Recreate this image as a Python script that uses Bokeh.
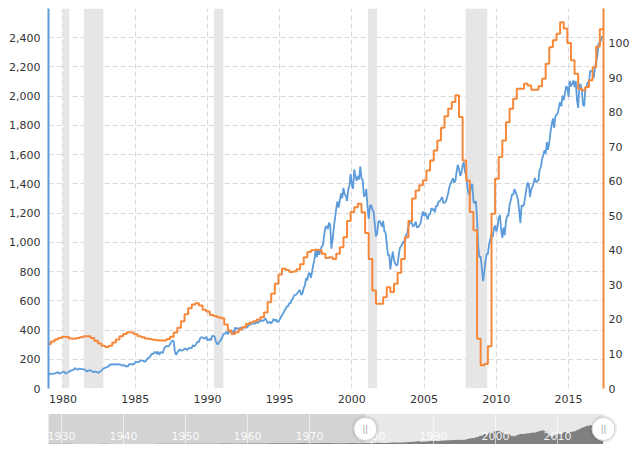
from bokeh.plotting import figure
from bokeh.layouts import column
from bokeh.models import Range1d, LinearAxis, FixedTicker, NumeralTickFormatter
from bokeh.embed import file_html
from bokeh.resources import INLINE
from bokeh.core.properties import value

# ---------------- data ----------------
# S&P 500 monthly closes, starting January 1979
sp500_start = 1979
sp500_1979_1988 = [
    99.93, 96.28, 101.59, 101.76, 99.08, 102.91, 103.81, 109.32, 109.32, 101.82, 106.16, 107.94,
    114.16, 113.66, 102.09, 106.29, 111.24, 114.24, 121.67, 122.38, 125.46, 127.47, 140.52, 135.76,
    129.55, 131.27, 136.00, 132.81, 132.59, 131.21, 130.92, 122.79, 116.18, 121.89, 126.35, 122.55,
    120.40, 113.11, 111.96, 116.44, 111.88, 109.61, 107.09, 119.51, 120.42, 133.71, 138.54, 140.64,
    145.30, 148.06, 152.96, 164.42, 162.39, 168.11, 162.56, 164.40, 166.07, 163.55, 166.40, 164.93,
    163.41, 157.06, 159.18, 160.05, 150.55, 153.18, 150.66, 166.68, 166.10, 166.09, 163.58, 167.24,
    179.63, 181.18, 180.66, 179.83, 189.55, 191.85, 190.92, 188.63, 182.08, 189.82, 202.17, 211.28,
    211.78, 226.92, 238.90, 235.52, 247.35, 250.84, 236.12, 252.93, 231.32, 243.98, 249.22, 242.17,
    274.08, 284.20, 291.70, 288.36, 290.10, 304.00, 318.66, 329.80, 321.83, 251.79, 230.30, 247.08,
    257.07, 267.82, 258.89, 261.33, 262.16, 273.50, 272.02, 261.52, 271.91, 278.97, 273.70, 277.72,
]
sp500_1989_1998 = [
    297.47, 288.86, 294.87, 309.64, 320.52, 317.98, 346.08, 351.45, 349.15, 340.36, 345.99, 353.40,
    329.08, 331.89, 339.94, 330.80, 361.23, 358.02, 356.15, 322.56, 306.05, 304.00, 322.22, 330.22,
    343.93, 367.07, 375.22, 375.34, 389.83, 371.16, 387.81, 395.43, 387.86, 392.46, 375.22, 417.09,
    408.79, 412.70, 403.69, 414.95, 415.35, 408.14, 424.21, 414.03, 417.80, 418.68, 431.35, 435.71,
    438.78, 443.38, 451.67, 440.19, 450.19, 450.53, 448.13, 463.56, 458.93, 467.83, 461.79, 466.45,
    481.61, 467.14, 445.77, 450.91, 456.50, 444.27, 458.26, 475.49, 462.69, 472.35, 453.69, 459.27,
    470.42, 487.39, 500.71, 514.71, 533.40, 544.75, 562.06, 561.88, 584.41, 581.50, 605.37, 615.93,
    636.02, 640.43, 645.50, 654.17, 669.12, 670.63, 639.95, 651.99, 687.31, 705.27, 757.02, 740.74,
    786.16, 790.82, 757.12, 801.34, 848.28, 885.14, 954.29, 899.47, 947.28, 914.62, 955.40, 970.43,
    980.28, 1049.34, 1101.75, 1111.75, 1090.82, 1133.84, 1120.67, 957.28, 1017.01, 1098.67, 1163.63, 1229.23,
]
sp500_1999_2008 = [
    1279.64, 1238.33, 1286.37, 1335.18, 1301.84, 1372.71, 1328.72, 1320.41, 1282.71, 1362.93, 1388.91, 1469.25,
    1394.46, 1366.42, 1498.58, 1452.43, 1420.60, 1454.60, 1430.83, 1517.68, 1436.51, 1429.40, 1314.95, 1320.28,
    1366.01, 1239.94, 1160.33, 1249.46, 1255.82, 1224.42, 1211.23, 1133.58, 1040.94, 1059.78, 1139.45, 1148.08,
    1130.20, 1106.73, 1147.39, 1076.92, 1067.14, 989.82, 911.62, 916.07, 815.28, 885.76, 936.31, 879.82,
    855.70, 841.15, 848.18, 916.92, 963.59, 974.50, 990.31, 1008.01, 995.97, 1050.71, 1058.20, 1111.92,
    1131.13, 1144.94, 1126.21, 1107.30, 1120.68, 1140.84, 1101.72, 1104.24, 1114.58, 1130.20, 1173.82, 1211.92,
    1181.27, 1203.60, 1180.59, 1156.85, 1191.50, 1191.33, 1234.18, 1220.33, 1228.81, 1207.01, 1249.48, 1248.29,
    1280.08, 1280.66, 1294.87, 1310.61, 1270.09, 1270.20, 1276.66, 1303.82, 1335.85, 1377.94, 1400.63, 1418.30,
    1438.24, 1406.82, 1420.86, 1482.37, 1530.62, 1503.35, 1455.27, 1473.99, 1526.75, 1549.38, 1481.14, 1468.36,
    1378.55, 1330.63, 1322.70, 1385.59, 1400.38, 1280.00, 1267.38, 1282.83, 1166.36, 968.75, 896.24, 903.25,
]
sp500_2009_2017 = [
    825.88, 735.09, 797.87, 872.81, 919.14, 919.32, 987.48, 1020.62, 1057.08, 1036.19, 1095.63, 1115.10,
    1073.87, 1104.49, 1169.43, 1186.69, 1089.41, 1030.71, 1101.60, 1049.33, 1141.20, 1183.26, 1180.55, 1257.64,
    1286.12, 1327.22, 1325.83, 1363.61, 1345.20, 1320.64, 1292.28, 1218.89, 1131.42, 1253.30, 1246.96, 1257.60,
    1312.41, 1365.68, 1408.47, 1397.91, 1310.33, 1362.16, 1379.32, 1406.58, 1440.67, 1412.16, 1416.18, 1426.19,
    1498.11, 1514.68, 1569.19, 1597.57, 1630.74, 1606.28, 1685.73, 1632.97, 1681.55, 1756.54, 1805.81, 1848.36,
    1782.59, 1859.45, 1872.34, 1883.95, 1923.57, 1960.23, 1930.67, 2003.37, 1972.29, 2018.05, 2067.56, 2058.90,
    1994.99, 2104.50, 2067.89, 2085.51, 2107.39, 2063.11, 2103.84, 1972.18, 1920.03, 2079.36, 2080.41, 2043.94,
    1940.24, 1932.23, 2059.74, 2065.30, 2096.95, 2098.86, 2173.60, 2170.95, 2168.27, 2126.15, 2198.81, 2238.83,
    2278.87, 2363.64, 2362.72, 2384.20, 2411.80,
]

# S&P 500 trailing 12-month earnings per share, quarterly steps starting Dec 1978
eps_start = 1978 + 11 / 12
eps_1979_1988 = [12.9, 13.6, 14.2, 14.6, 15.0, 14.9, 14.5, 14.4, 14.6, 14.8, 15.1, 15.1,
                 14.6, 13.8, 13.0, 12.4, 12.0, 12.4, 13.3, 14.2, 15.1, 15.8, 16.3, 16.2,
                 15.7, 15.1, 14.8, 14.5, 14.3, 14.1, 14.0, 13.9, 13.9, 14.3, 15.0, 16.2,
                 17.6, 19.5, 21.5, 23.2]
eps_1989_1998 = [24.3, 24.7, 24.0, 22.8, 22.3, 21.3, 21.0, 20.6, 20.3, 18.5, 16.8, 15.8,
                 16.3, 17.1, 17.8, 18.7, 19.1, 19.5, 20.0, 20.6, 22.0, 25.0, 27.4, 30.3,
                 33.0, 34.7, 34.3, 33.7, 33.9, 34.5, 36.0, 38.0, 39.5, 40.0, 40.2, 40.0,
                 39.0, 37.8, 38.0, 37.5]
eps_1999_2008 = [39.0, 40.9, 43.8, 48.5, 51.1, 52.5, 53.5, 51.0, 45.0, 37.5, 28.4, 24.5,
                 24.5, 26.4, 29.3, 27.9, 30.3, 33.5, 37.5, 43.8, 48.5, 55.0, 57.3, 58.8,
                 60.2, 63.1, 66.0, 68.9, 71.8, 75.5, 78.8, 81.0, 82.9, 84.9, 78.6, 66.0,
                 60.2, 51.1, 45.8, 14.4]
eps_2009_2017 = [6.7, 7.1, 12.2, 50.6, 60.7, 67.0, 71.8, 77.1, 81.0, 83.9, 86.8, 86.8,
                 88.2, 87.7, 86.5, 86.5, 87.5, 89.7, 94.0, 98.8, 100.8, 102.7, 106.0, 104.2,
                 100.0, 95.0, 91.1, 86.8, 86.3, 87.3, 89.2, 93.0, 99.0, 104.0]

# Recessions (shaded bands)
recession_start = [1980.0, 1981.45, 1990.45, 2001.12, 2007.87]
recession_end = [1980.45, 1982.8, 1991.1, 2001.75, 2009.37]

# Navigator: long-run S&P 500 (annual, 1928-1978)
nav_annual_start = 1928
nav_annual = [17.5, 24.9, 21.7, 15.98, 8.3, 7.09, 10.54, 9.26, 13.76, 17.59, 11.31, 12.5,
              12.05, 10.55, 8.93, 10.09, 11.85, 13.49, 18.02, 15.21, 14.83, 15.36, 16.88,
              21.21, 24.19, 26.18, 25.46, 35.6, 44.15, 45.43, 41.12, 55.62, 58.03, 59.72,
              69.07, 65.06, 76.45, 86.12, 93.32, 84.45, 95.04, 102.04, 92.06, 92.15, 102.09,
              118.42, 97.55, 72.56, 96.86, 103.81, 90.25]

x_ticks = [1980, 1985, 1990, 1995, 2000, 2005, 2010, 2015]
left_ticks = list(range(0, 2401, 200))
right_ticks = list(range(0, 101, 10))
nav_ticks = [1930, 1940, 1950, 1960, 1970, 1980, 1990, 2000, 2010]

# ---------------- settings ----------------
X_START, X_END = 1979.0, 2017.42
Y_MAX, EPS_MAX = 2600, 110
NAV_X0 = 1927.9
NAV_MAX = 3350
BLUE = "#5d9cdb"
ORANGE = "#f5883a"
TEXT = "#333333"
FONT = "DejaVu Sans"
GRID = "#dadada"
W = 636
LEFT, FRAME_W = 48, 555
RIGHT = W - LEFT - FRAME_W

sp500 = sp500_1979_1988 + sp500_1989_1998 + sp500_1999_2008 + sp500_2009_2017
sp_t = [sp500_start + i / 12 for i in range(len(sp500))]
eps = eps_1979_1988 + eps_1989_1998 + eps_1999_2008 + eps_2009_2017
eps_t = [eps_start + 0.25 * i for i in range(len(eps))]

# ---------------- main chart ----------------
p = figure(width=W, height=413, x_range=Range1d(X_START, X_END), y_range=Range1d(0, Y_MAX),
           output_backend="svg", toolbar_location=None,
           min_border_left=LEFT, min_border_right=RIGHT, min_border_top=8, min_border_bottom=25)
p.frame_align = False
p.outline_line_color = None
p.background_fill_color = "white"
p.border_fill_color = "white"

p.quad(left=recession_start, right=recession_end, bottom=0, top=Y_MAX,
       fill_color="#e6e6e6", line_color=None)

p.xgrid.ticker = FixedTicker(ticks=x_ticks)
p.ygrid.ticker = FixedTicker(ticks=left_ticks)
for g in (p.xgrid, p.ygrid):
    g.grid_line_color = GRID
    g.grid_line_dash = "5 3"
    g.grid_line_width = 1

xa = p.xaxis[0]
xa.ticker = FixedTicker(ticks=x_ticks)
xa.axis_line_color = None
ya = p.yaxis[0]
ya.ticker = FixedTicker(ticks=left_ticks)
ya.formatter = NumeralTickFormatter(format="0,0")
ya.axis_line_color = BLUE
ya.axis_line_width = 2

p.extra_y_ranges = {"eps": Range1d(0, EPS_MAX)}
ra = LinearAxis(y_range_name="eps", ticker=FixedTicker(ticks=right_ticks))
ra.axis_line_color = ORANGE
ra.axis_line_width = 2
p.add_layout(ra, "right")

for ax, standoff in ((xa, 6), (ya, 8), (ra, 5)):
    ax.major_tick_line_color = None
    ax.minor_tick_line_color = None
    ax.major_tick_out = 0
    ax.major_tick_in = 0
    ax.minor_tick_out = 0
    ax.major_label_standoff = standoff
    ax.major_label_text_font = FONT
    ax.major_label_text_font_size = "11px"
    ax.major_label_text_color = TEXT

p.line(sp_t, sp500, line_color=BLUE, line_width=1.8)
p.step(eps_t + [X_END], eps + [eps[-1]], mode="after", y_range_name="eps",
       line_color=ORANGE, line_width=2)

# ---------------- navigator ----------------
px_per_year = FRAME_W / (X_END - NAV_X0)
nav_lo = NAV_X0 - LEFT / px_per_year
nav_hi = X_END + RIGHT / px_per_year
ypx = NAV_MAX / 30
nav = figure(width=W, height=31, x_range=Range1d(nav_lo, nav_hi),
             y_range=Range1d(-0.5 * ypx, NAV_MAX + 0.5 * ypx),
             output_backend="svg", toolbar_location=None,
             x_axis_location=None, y_axis_location=None, min_border=0)
nav.frame_align = False
nav.grid.visible = False
nav.outline_line_color = None
nav.background_fill_color = "white"
nav.border_fill_color = "white"

nav.quad(left=[NAV_X0], right=[X_START], bottom=0, top=NAV_MAX, fill_color="#d3d3d3", line_color=None)
nav.quad(left=[X_START], right=[X_END], bottom=0, top=NAV_MAX, fill_color="#e8e8e8", line_color=None)

nav_t = [nav_annual_start + i for i in range(len(nav_annual))] + sp_t
nav_v = nav_annual + sp500
nav.varea(x=nav_t, y1=0, y2=nav_v, fill_color="#808080")

nav.segment(x0=nav_ticks, x1=nav_ticks, y0=0, y1=NAV_MAX, line_color="white", line_alpha=0.6, line_width=1)
nav.text(x=nav_ticks, y=[NAV_MAX * 0.27] * len(nav_ticks), text=[str(t) for t in nav_ticks],
         text_font=value(FONT), text_font_size="11px", text_color="white", text_alpha=0.9,
         text_align="center", text_baseline="middle")

hx = [X_START, X_END]
hy = [NAV_MAX / 2] * 2
nav.scatter(hx, hy, size=27, marker="circle", fill_color="black", fill_alpha=0.07, line_color=None)
nav.scatter(hx, hy, size=23, marker="circle", fill_color="white", line_color="#d0d0d0", line_width=1)
nav.text(x=hx, y=hy, text=["||", "||"], text_font=value(FONT), text_font_size="8px",
         text_color="#999999", text_align="center", text_baseline="middle")

layout = column(p, nav, spacing=0)
open("out.html", "w").write(file_html(layout, INLINE))
